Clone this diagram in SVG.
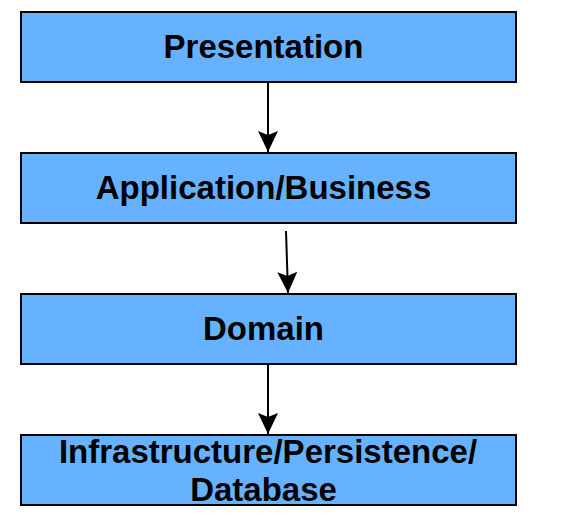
<svg xmlns="http://www.w3.org/2000/svg" width="563" height="515" viewBox="0 0 563 515">
<style>
.box{fill:#66b2ff;stroke:#000;stroke-width:2}
.lbl{font-family:"Liberation Sans",Arial,sans-serif;font-weight:bold;font-size:33px;fill:#000;text-anchor:middle}
.conn{stroke:#000;stroke-width:2;fill:none}
</style>
<defs>
<marker id="arr" viewBox="0 0 21 20" refX="21" refY="10" markerWidth="21" markerHeight="20" markerUnits="userSpaceOnUse" orient="auto">
<path d="M0,0 L21,10 L0,20 L4,10 z" fill="#000"/>
</marker>
</defs>
<rect width="563" height="515" fill="#fff"/>
<g id="presentation">
<rect class="box" x="21" y="12" width="495" height="70"/>
<text class="lbl" x="263.5" y="58">Presentation</text>
</g>
<g id="application">
<rect class="box" x="21" y="153" width="495" height="70"/>
<text class="lbl" x="263.5" y="199">Application/Business</text>
</g>
<g id="domain">
<rect class="box" x="21" y="294" width="495" height="70"/>
<text class="lbl" x="263.5" y="340">Domain</text>
</g>
<g id="infrastructure">
<rect class="box" x="21" y="435" width="495" height="70"/>
<text class="lbl" x="268" y="463">Infrastructure/Persistence/</text>
<text class="lbl" x="263.5" y="501">Database</text>
</g>
<g id="connectors">
<line class="conn" x1="268" y1="83" x2="268" y2="152" marker-end="url(#arr)"/>
<line class="conn" x1="286" y1="231" x2="288" y2="293" marker-end="url(#arr)"/>
<line class="conn" x1="268" y1="365" x2="268" y2="434" marker-end="url(#arr)"/>
</g>
</svg>
